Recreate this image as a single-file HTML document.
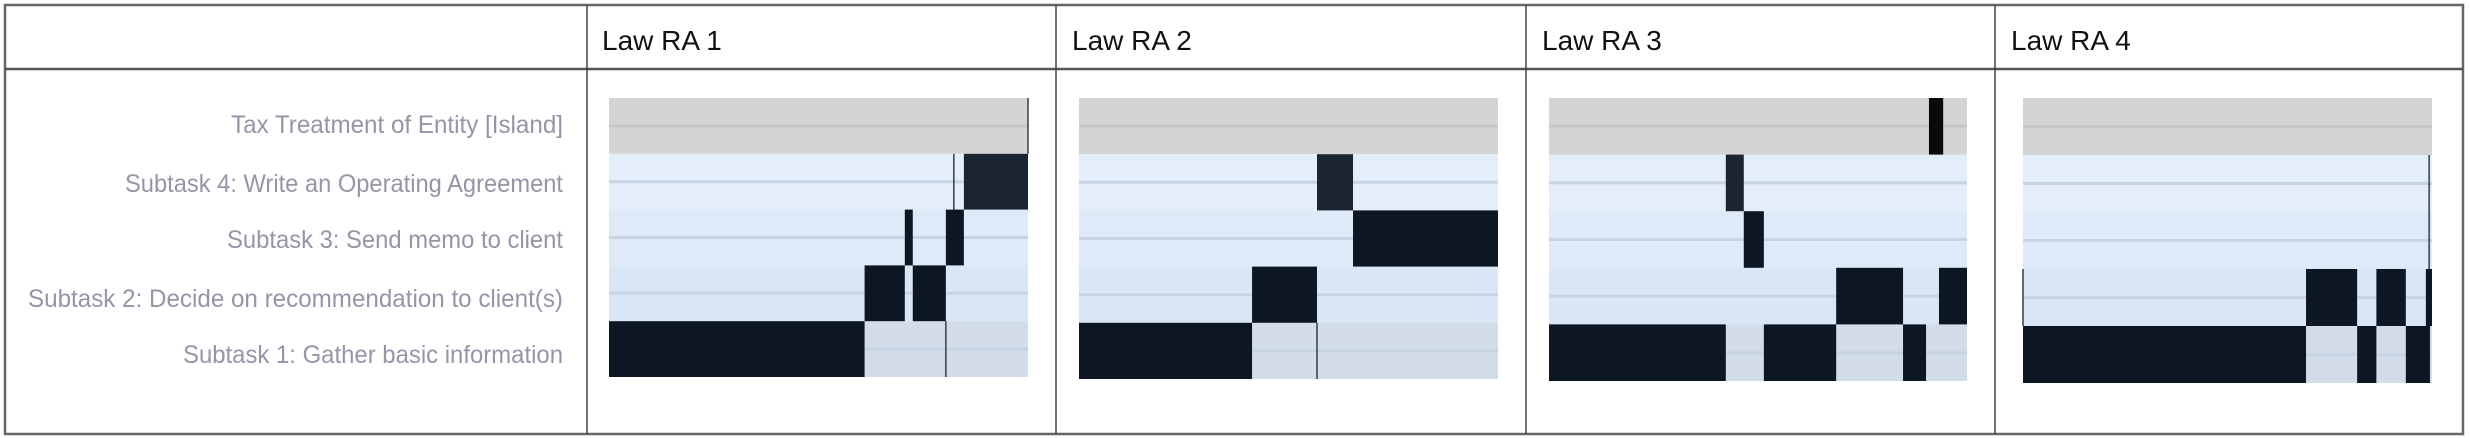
<!DOCTYPE html>
<html><head><meta charset="utf-8"><style>
html,body{margin:0;padding:0;background:#fff;}
svg{display:block;font-family:"Liberation Sans",sans-serif;}
</style></head><body>
<svg id="root" width="2470" height="438" viewBox="0 0 2470 438">
<g id="table">
<rect x="5" y="5" width="2458" height="429" fill="none" stroke="#666" stroke-width="2.5"/>
<line x1="5" y1="69" x2="2463" y2="69" stroke="#555" stroke-width="2.5"/>
<line x1="587" y1="5" x2="587" y2="434" stroke="#444" stroke-width="1.5"/>
<line x1="1056" y1="5" x2="1056" y2="434" stroke="#444" stroke-width="1.5"/>
<line x1="1526" y1="5" x2="1526" y2="434" stroke="#444" stroke-width="1.5"/>
<line x1="1995" y1="5" x2="1995" y2="434" stroke="#444" stroke-width="1.5"/>
</g>
<g id="headers" font-size="28" fill="#111"></g>
<g id="labels" font-size="25" fill="#9595a8" text-anchor="end"></g>
<g id="charts"></g>
</svg>
<script>
const headers = ["Law RA 1","Law RA 2","Law RA 3","Law RA 4"];
const rowLabels = ["Tax Treatment of Entity [Island]","Subtask 4: Write an Operating Agreement","Subtask 3: Send memo to client","Subtask 2:  Decide on recommendation to client(s)","Subtask 1: Gather basic information"];
// segments: [rowIndex, start, end] on a 0-100 timeline (row 0 = Tax, 4 = Subtask 1)
const ra1Segments = [[4,0,61],[3,61,70.6],[3,72.5,80.4],[2,70.6,72.5],[2,80.4,84.7],[1,84.7,100]];
const ra2Segments = [[4,0,41.3],[3,41.3,56.8],[1,56.8,65.4],[2,65.4,100]];
const ra3Segments = [[0,90.9,94.3],[1,42.3,46.6],[2,46.6,51.4],[3,68.7,84.7],[3,93.3,100],[4,0,42.3],[4,51.4,68.7],[4,84.7,90.2]];
const ra4Segments = [[4,0,69.2],[4,81.7,86.4],[4,93.6,99.5],[3,69.2,81.7],[3,86.4,93.6],[3,98.5,100]];
// thin marker lines: [rowIndex, position]
const ra1Markers = [[1,82.3],[4,80.4],[0,100]];
const ra2Markers = [[4,56.8]];
const ra3Markers = [];
const ra4Markers = [[1,99.3],[2,99.3],[3,0]];

const NS="http://www.w3.org/2000/svg";
function mk(tag,attrs,parent){const e=document.createElementNS(NS,tag);for(const k in attrs)e.setAttribute(k,attrs[k]);parent.appendChild(e);return e;}

const hx=[602,1072,1542,2011];
const hg=document.getElementById('headers');
headers.forEach((h,i)=>{
  const t=mk('text',{x:hx[i],y:50},hg);
  
  
  t.textContent=h;
});
const lg=document.getElementById('labels');
const labelY=[133,192,248,307,363];
const labelW=[332,438,336,535,380];
rowLabels.forEach((l,i)=>{
  const t=mk('text',{x:563,y:labelY[i],textLength:labelW[i],lengthAdjust:'spacingAndGlyphs'},lg);
  
  
  t.textContent=l;
});

const rowFill=["#d4d4d4","#e4eefa","#dfeaf8","#d9e6f6","#d3dde9"];
const charts=[
 {x0:609,x1:1028,y0:98,y1:377,seg:ra1Segments,mk:ra1Markers},
 {x0:1079,x1:1498,y0:98,y1:379,seg:ra2Segments,mk:ra2Markers},
 {x0:1549,x1:1967,y0:98,y1:381,seg:ra3Segments,mk:ra3Markers},
 {x0:2023,x1:2432,y0:98,y1:383,seg:ra4Segments,mk:ra4Markers}
];
const cg=document.getElementById('charts');
charts.forEach((c,ci)=>{
  const g=mk('g',{},cg);
  
  
  const rh=(c.y1-c.y0)/5;
  const xs=v=>c.x0+(c.x1-c.x0)*v/100;
  const ys=r=>c.y0+rh*r;
  for(let r=0;r<5;r++){
    const b=mk('rect',{x:c.x0,y:ys(r),width:c.x1-c.x0,height:rh,fill:rowFill[r]},g);
    
    
    mk('line',{x1:c.x0,x2:c.x1,y1:ys(r)+rh/2,y2:ys(r)+rh/2,stroke:r==0?"#c6c6cc":"#c8d4e4","stroke-width":3},g);
  }
  c.seg.forEach(s=>{
    const b=mk('rect',{x:xs(s[1]),y:ys(s[0]),width:xs(s[2])-xs(s[1]),height:rh,fill:s[0]==0?"#0a0a0a":(s[0]==1?"#1b2430":"#0d1724")},g);
    
    
  });
  c.mk.forEach(m=>{
    const l=mk('line',{x1:xs(m[1]),x2:xs(m[1]),y1:ys(m[0]),y2:ys(m[0])+rh,stroke:"#333d4a","stroke-width":1.5},g);
    
    
  });
});
</script>
</body></html>
